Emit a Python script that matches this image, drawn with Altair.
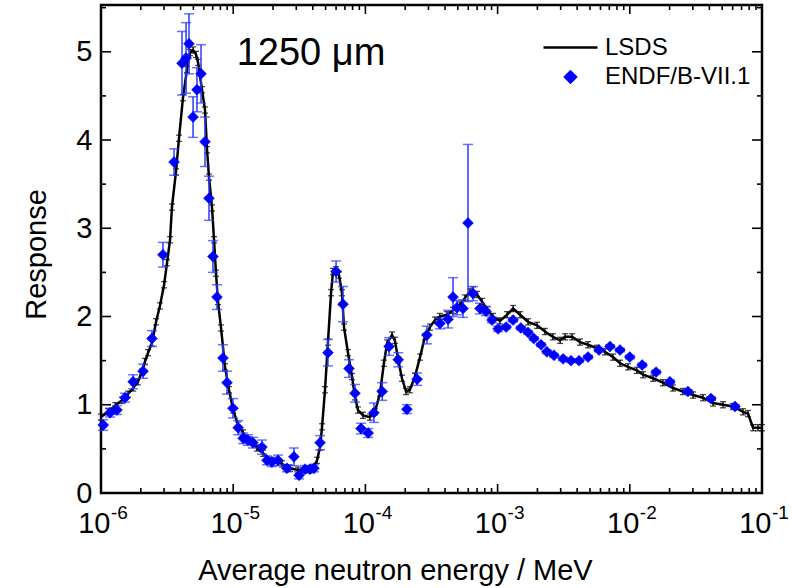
import altair as alt
import pandas as pd

# ---------------- data ----------------
lsds_energy = [
    1.00e-6, 1.13e-6, 1.28e-6, 1.44e-6, 1.60e-6, 1.75e-6, 1.90e-6, 2.04e-6, 2.15e-6, 2.27e-6,
    2.43e-6, 2.61e-6, 2.79e-6, 3.00e-6, 3.16e-6, 3.33e-6, 3.44e-6, 3.69e-6, 3.89e-6, 4.17e-6,
    4.47e-6, 4.71e-6, 4.97e-6, 5.23e-6, 5.42e-6, 5.81e-6, 6.12e-6, 6.34e-6, 6.56e-6, 6.92e-6,
    7.16e-6, 7.41e-6, 7.67e-6, 8.09e-6, 8.67e-6, 9.29e-6, 1.00e-5, 1.09e-5, 1.19e-5, 1.34e-5,
    1.51e-5, 1.68e-5, 1.96e-5, 2.34e-5, 2.69e-5, 3.09e-5, 3.61e-5, 4.02e-5, 4.31e-5, 4.54e-5,
    4.70e-5, 4.95e-5, 5.21e-5, 5.50e-5, 5.69e-5, 6.00e-5, 6.31e-5, 6.65e-5, 6.89e-5, 7.38e-5,
    7.92e-5, 8.34e-5, 8.79e-5, 9.59e-5, 1.08e-4, 1.18e-4, 1.29e-4, 1.38e-4, 1.46e-4, 1.59e-4,
    1.67e-4, 1.77e-4, 1.89e-4, 2.03e-4, 2.17e-4, 2.37e-4, 2.59e-4, 2.82e-4, 3.08e-4, 3.36e-4,
    3.66e-4, 4.14e-4, 4.60e-4, 5.20e-4, 5.66e-4, 6.18e-4, 6.52e-4, 6.98e-4, 7.62e-4, 8.31e-4,
    9.23e-4, 1.04e-3, 1.18e-3, 1.31e-3, 1.48e-3, 1.70e-3, 1.99e-3, 2.28e-3, 2.62e-3, 2.97e-3,
    3.24e-3, 3.66e-3, 4.20e-3, 4.83e-3, 5.65e-3, 6.49e-3, 7.46e-3, 8.43e-3, 9.69e-3, 1.13e-2,
    1.26e-2, 1.50e-2, 1.78e-2, 2.12e-2, 2.52e-2, 3.01e-2, 3.58e-2, 4.26e-2, 5.07e-2, 6.04e-2,
    7.18e-2, 7.84e-2, 8.55e-2, 9.33e-2, 1.00e-1,
]
lsds_response = [
    0.86, 0.92, 0.99, 1.05, 1.12, 1.19, 1.26, 1.37, 1.49, 1.59,
    1.70, 1.94, 2.12, 2.36, 2.61, 2.87, 3.24, 3.64, 4.02, 4.48,
    4.80, 4.99, 5.02, 4.97, 4.88, 4.57, 4.34, 3.89, 3.58, 3.23,
    2.87, 2.49, 2.17, 1.87, 1.43, 1.17, 0.94, 0.77, 0.68, 0.60,
    0.51, 0.45, 0.37, 0.33, 0.28, 0.26, 0.27, 0.29, 0.37, 0.52,
    0.75, 1.17, 1.71, 2.27, 2.51, 2.53, 2.47, 2.27, 1.88, 1.59,
    1.32, 1.09, 0.94, 0.88, 0.86, 0.92, 1.13, 1.47, 1.70, 1.79,
    1.73, 1.51, 1.30, 1.15, 1.17, 1.32, 1.54, 1.77, 1.88, 1.96,
    2.00, 2.02, 2.07, 2.13, 2.21, 2.28, 2.30, 2.25, 2.17, 2.08,
    2.00, 1.95, 2.02, 2.09, 2.02, 1.94, 1.90, 1.83, 1.77, 1.73,
    1.77, 1.77, 1.71, 1.68, 1.64, 1.60, 1.54, 1.47, 1.43, 1.39,
    1.34, 1.30, 1.25, 1.19, 1.15, 1.11, 1.08, 1.02, 1.00, 0.98,
    0.92, 0.90, 0.74, 0.74, 0.74,
]
lsds_error = 0.035

endf_energy = [
    1.04e-6, 1.17e-6, 1.32e-6, 1.52e-6, 1.75e-6, 2.08e-6, 2.43e-6, 2.94e-6, 3.57e-6, 4.10e-6,
    4.40e-6, 4.63e-6, 4.97e-6, 5.32e-6, 5.71e-6, 6.12e-6, 6.56e-6, 7.03e-6, 7.54e-6, 8.37e-6,
    8.98e-6, 9.96e-6, 1.09e-5, 1.19e-5, 1.29e-5, 1.41e-5, 1.65e-5, 1.80e-5, 1.96e-5, 2.18e-5,
    2.55e-5, 2.88e-5, 3.15e-5, 3.49e-5, 3.81e-5, 4.08e-5, 4.54e-5, 5.21e-5, 6.00e-5, 6.77e-5,
    7.52e-5, 8.34e-5, 9.27e-5, 1.05e-4, 1.16e-4, 1.34e-4, 1.51e-4, 1.77e-4, 2.06e-4, 2.46e-4,
    2.92e-4, 3.66e-4, 4.22e-4, 4.60e-4, 4.93e-4, 5.47e-4, 5.97e-4, 6.52e-4, 7.36e-4, 8.17e-4,
    9.07e-4, 1.01e-3, 1.16e-3, 1.31e-3, 1.50e-3, 1.70e-3, 1.88e-3, 2.13e-3, 2.36e-3, 2.67e-3,
    3.13e-3, 3.59e-3, 4.13e-3, 4.83e-3, 5.85e-3, 7.08e-3, 8.43e-3, 1.00e-2, 1.24e-2, 1.58e-2,
    2.01e-2, 2.75e-2, 4.11e-2, 6.25e-2,
]
endf_response = [
    0.77, 0.91, 0.94, 1.08, 1.26, 1.38, 1.75, 2.70, 3.75, 4.87,
    4.93, 5.09, 4.26, 4.57, 4.75, 3.98, 3.34, 2.68, 2.22, 1.53,
    1.25, 0.96, 0.74, 0.62, 0.60, 0.57, 0.52, 0.37, 0.35, 0.37,
    0.28, 0.41, 0.20, 0.27, 0.27, 0.28, 0.57, 1.59, 2.51, 2.14,
    1.41, 1.13, 0.73, 0.68, 0.91, 1.15, 1.66, 1.51, 0.95, 1.29,
    1.79, 1.92, 1.97, 2.22, 2.10, 2.09, 3.06, 2.26, 2.09, 2.06,
    1.96, 1.86, 1.88, 1.96, 1.87, 1.82, 1.75, 1.68, 1.60, 1.56,
    1.52, 1.50, 1.50, 1.54, 1.62, 1.66, 1.62, 1.54, 1.45, 1.37,
    1.26, 1.15, 1.07, 0.98,
]
endf_error = [
    0.06, 0.05, 0.05, 0.05, 0.08, 0.08, 0.09, 0.14, 0.15, 0.36,
    0.40, 0.34, 0.23, 0.25, 0.33, 0.28, 0.25, 0.18, 0.14, 0.15,
    0.13, 0.11, 0.08, 0.06, 0.06, 0.06, 0.08, 0.05, 0.05, 0.06,
    0.04, 0.10, 0.04, 0.04, 0.04, 0.04, 0.08, 0.15, 0.12, 0.20,
    0.10, 0.10, 0.06, 0.05, 0.11, 0.10, 0.10, 0.08, 0.05, 0.07,
    0.10, 0.06, 0.10, 0.22, 0.08, 0.10, 0.89, 0.08, 0.06, 0.05,
    0.03, 0.03, 0.02, 0.02, 0.02, 0.02, 0.02, 0.02, 0.02, 0.02,
    0.02, 0.02, 0.02, 0.02, 0.02, 0.02, 0.02, 0.02, 0.02, 0.02,
    0.02, 0.02, 0.02, 0.02,
]

series_names = ["LSDS", "ENDF/B-VII.1"]
x_tick_values = [1e-6, 1e-5, 1e-4, 1e-3, 1e-2, 1e-1]
x_tick_exponents = ["-6", "-5", "-4", "-3", "-2", "-1"]
y_tick_values = [0, 1, 2, 3, 4, 5]
annotation = ["1250 \u03bcm"]

# ---------------- styling ----------------
W, H = 661, 488
FONT = "Liberation Sans"
BLUE = "#0000ff"
BLUE_ERR = "#2a3aff"

lsds = pd.DataFrame({"energy": lsds_energy, "response": lsds_response})
lsds["lo"] = lsds["response"] - lsds_error
lsds["hi"] = lsds["response"] + lsds_error

endf = pd.DataFrame({"energy": endf_energy, "response": endf_response,
                     "err": endf_error, "series": series_names[1]})
endf["lo"] = endf["response"] - endf["err"]
endf["hi"] = endf["response"] + endf["err"]

minor_x = [k * d for d in x_tick_values[:-1] for k in range(2, 10)]
minor_y = [v + 0.5 for v in y_tick_values]

xs = alt.Scale(type="log", domain=[1e-6, 1e-1], nice=False)
ys = alt.Scale(domain=[0, 5.53], nice=False, zero=False)

x_axis = alt.Axis(
    values=x_tick_values, labelExpr="'10'", labelAlign="right", labelOffset=9,
    labelBaseline="alphabetic", labelPadding=39, ticks=False, tickSize=0,
    domain=False, grid=False, labelFont=FONT, labelFontSize=29, labelColor="black",
    labelFlush=False, labelOverlap=False, labelBound=False,
    title="Average neutron energy / MeV", titleFont=FONT, titleFontSize=29,
    titleFontWeight="normal", titleColor="black", titleX=294, titleY=86,
    titleAlign="center", titleBaseline="alphabetic",
)
y_axis = alt.Axis(
    values=y_tick_values, ticks=False, tickSize=0, domain=False, grid=False,
    labelFont=FONT, labelFontSize=29, labelPadding=9, labelColor="black",
    labelFlush=False, labelOverlap=False,
    title="Response", titleFont=FONT, titleFontSize=29, titleFontWeight="normal",
    titleColor="black", titleX=-56, titleY=249, titleAlign="center",
    titleBaseline="alphabetic",
)


def X(field):
    return alt.X(field, type="quantitative", scale=xs, axis=x_axis)


def Y(field):
    return alt.Y(field, type="quantitative", scale=ys, axis=y_axis)


line = alt.Chart(lsds).mark_line(color="black", strokeWidth=2.5).encode(
    x=X("energy"), y=Y("response")
)
lsds_bar = alt.Chart(lsds).mark_rule(color="black", strokeWidth=1.3).encode(
    x=X("energy"), y=Y("lo"), y2="hi:Q"
)
lsds_cap_lo = alt.Chart(lsds).mark_tick(orient="horizontal", size=6, thickness=1.3, color="black").encode(
    x=X("energy"), y=Y("lo")
)
lsds_cap_hi = alt.Chart(lsds).mark_tick(orient="horizontal", size=6, thickness=1.3, color="black").encode(
    x=X("energy"), y=Y("hi")
)

endf_bar = alt.Chart(endf).mark_rule(color=BLUE_ERR, strokeWidth=1.5).encode(
    x=X("energy"), y=Y("lo"), y2="hi:Q"
)
endf_cap_lo = alt.Chart(endf).mark_tick(orient="horizontal", size=10, thickness=1.5, color=BLUE_ERR).encode(
    x=X("energy"), y=Y("lo")
)
endf_cap_hi = alt.Chart(endf).mark_tick(orient="horizontal", size=10, thickness=1.5, color=BLUE_ERR).encode(
    x=X("energy"), y=Y("hi")
)

leg = alt.Legend(
    title=None, orient="none", legendX=441, legendY=14, labelFont=FONT,
    labelFontSize=24, labelColor="black", symbolStrokeWidth=2.5, rowPadding=5,
    labelOffset=6, padding=0,
)
pts = alt.Chart(endf).mark_point(filled=True, opacity=1, strokeWidth=0.5).encode(
    x=X("energy"), y=Y("response"),
    shape=alt.Shape("series:N", scale=alt.Scale(domain=series_names, range=["stroke", "diamond"]), legend=leg),
    fill=alt.Fill("series:N", scale=alt.Scale(domain=series_names, range=["black", BLUE]), legend=leg),
    stroke=alt.Stroke("series:N", scale=alt.Scale(domain=series_names, range=["black", BLUE]), legend=leg),
    size=alt.Size("series:N", scale=alt.Scale(domain=series_names, range=[2916, 120]), legend=leg),
)

# inward frame ticks
xmaj = pd.DataFrame({"v": x_tick_values})
xmin = pd.DataFrame({"v": minor_x})
ymaj = pd.DataFrame({"v": y_tick_values})
ymin = pd.DataFrame({"v": minor_y})


def xticks(df, length):
    bottom = alt.Chart(df).mark_rule(color="black", strokeWidth=1.6).encode(
        x=X("v:Q"), y=alt.value(H), y2=alt.value(H - length))
    top = alt.Chart(df).mark_rule(color="black", strokeWidth=1.6).encode(
        x=X("v:Q"), y=alt.value(0), y2=alt.value(length))
    return [bottom, top]


def yticks(df, length):
    left = alt.Chart(df).mark_rule(color="black", strokeWidth=1.6).encode(
        y=Y("v:Q"), x=alt.value(0), x2=alt.value(length))
    right = alt.Chart(df).mark_rule(color="black", strokeWidth=1.6).encode(
        y=Y("v:Q"), x=alt.value(W), x2=alt.value(W - length))
    return [left, right]


tick_layers = xticks(xmaj, 9) + xticks(xmin, 5) + yticks(ymaj, 10) + yticks(ymin, 5)

exps = alt.Chart(pd.DataFrame({"v": x_tick_values, "e": x_tick_exponents})).mark_text(
    font=FONT, fontSize=19, align="left", baseline="alphabetic", dx=10, color="black"
).encode(x=X("v:Q"), y=alt.value(H + 26), text="e:N")

label = alt.Chart(pd.DataFrame({"t": annotation})).mark_text(
    font=FONT, fontSize=38, align="center", baseline="alphabetic", color="black"
).encode(x=alt.value(210), y=alt.value(60), text="t:N")

chart = alt.layer(
    line, lsds_bar, lsds_cap_lo, lsds_cap_hi,
    endf_bar, endf_cap_lo, endf_cap_hi, pts,
    *tick_layers, exps, label,
).properties(
    width=W, height=H,
    padding={"left": 101, "top": 5, "right": 30, "bottom": 95},
    autosize=alt.AutoSizeParams(type="none"),
    background="white",
).configure_view(stroke="black", strokeWidth=2.5)

chart.save("out.html", embed_options={"renderer": "svg", "actions": False})
